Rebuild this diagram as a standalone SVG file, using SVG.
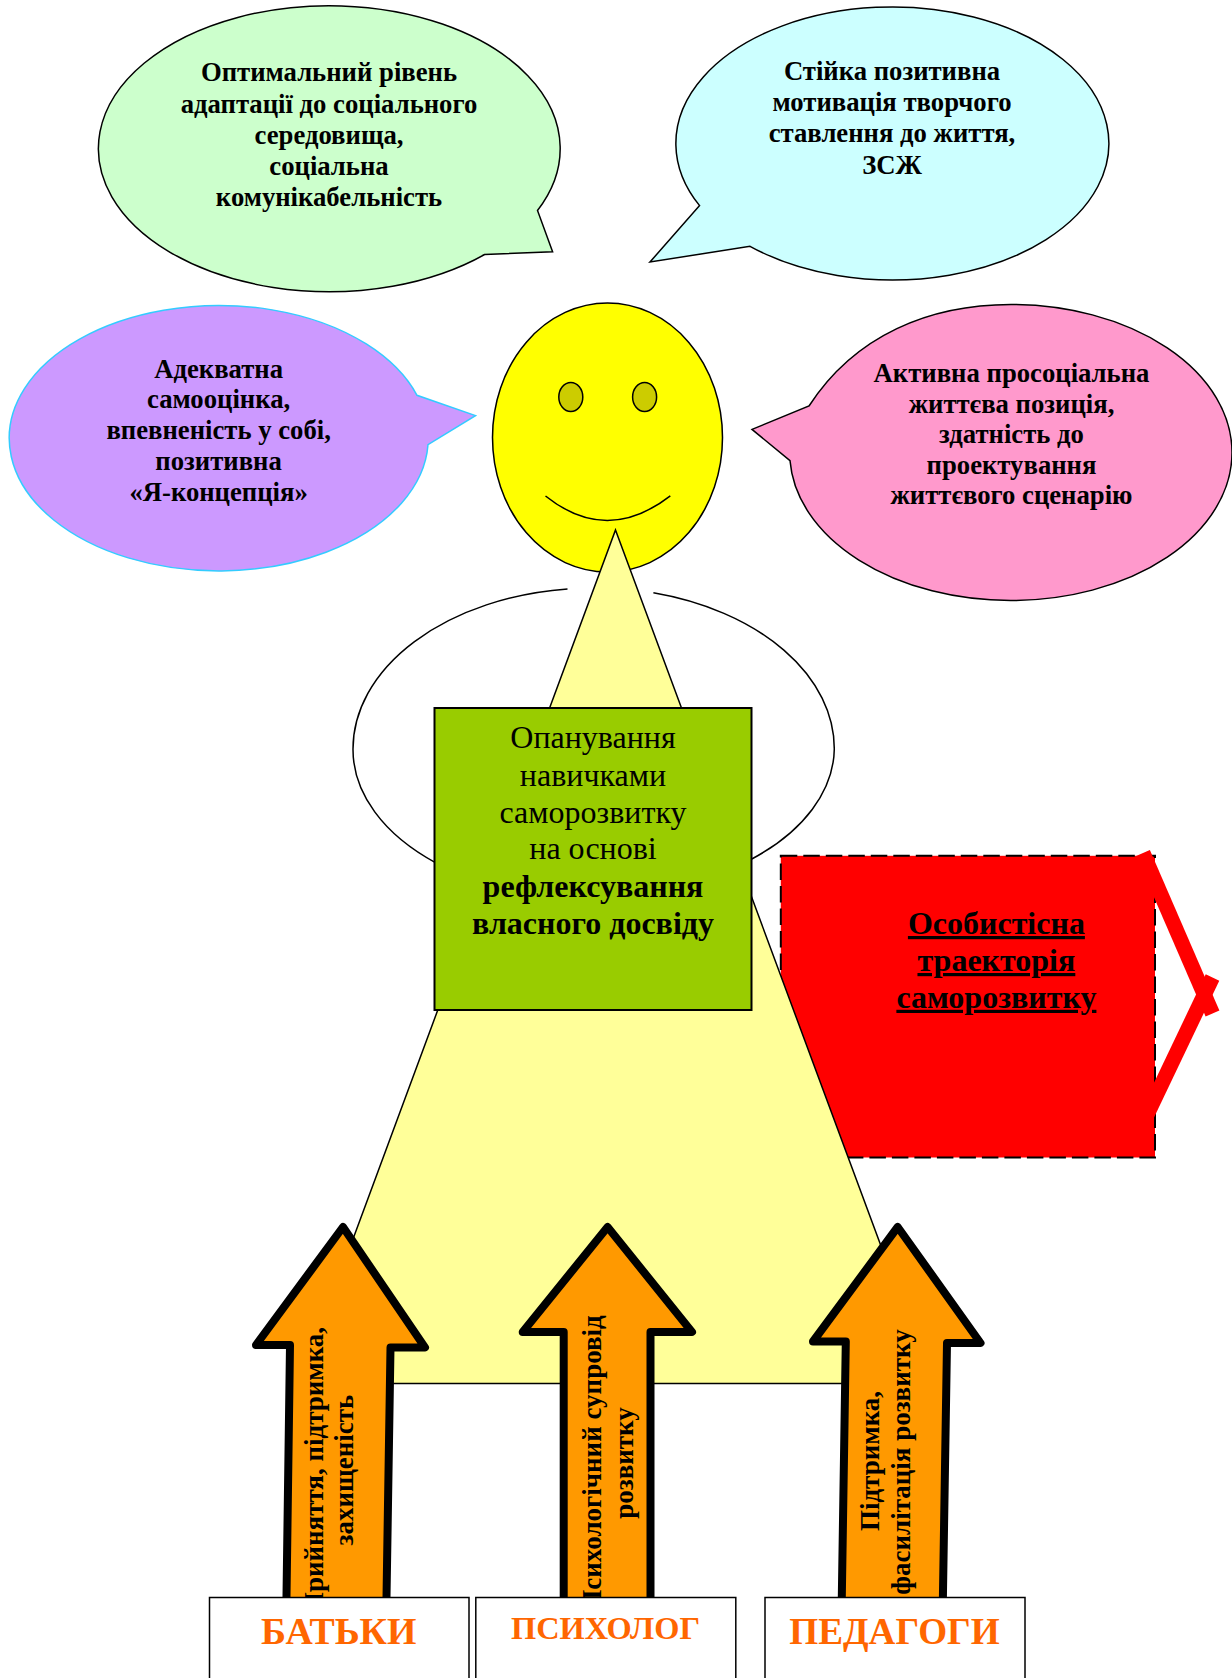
<svg xmlns="http://www.w3.org/2000/svg" width="1232" height="1678" viewBox="0 0 1232 1678">
<style>
text{font-family:"Liberation Serif","Times New Roman",serif;text-anchor:middle;fill:#000}
.c{font-weight:bold;font-size:26.7px}
.m{font-size:32px}
.b{font-weight:bold}
.r{font-weight:bold;font-size:32px;text-decoration:underline}
.a{font-weight:bold;font-size:27px}
.l{font-weight:bold;fill:#F60}
.s{stroke:#000;stroke-width:1.5}
.ar{fill:#F90;stroke:#000;stroke-width:8;stroke-linejoin:round}
.bx{fill:#fff;stroke:#000;stroke-width:1.5}
</style>
<g id="callout-green">
<path class="s" fill="#CFC" d="M537.5 210.5A230.9 143 0 1 0 484.6 254.5L552.6 251.8Z"/>
<text class="c" x="329" y="81.2">Оптимальний рівень</text>
<text class="c" x="329" y="112.5">адаптації до соціального</text>
<text class="c" x="329" y="143.8">середовища,</text>
<text class="c" x="329" y="174.8">соціальна</text>
<text class="c" x="329" y="206.2">комунікабельність</text>
</g>
<g id="callout-cyan">
<path class="s" fill="#CFF" d="M699.6 205.6A216.5 136.5 0 1 1 750 246.3L650 262Z"/>
<text class="c" x="892" y="79.8">Стійка позитивна</text>
<text class="c" x="892" y="111">мотивація творчого</text>
<text class="c" x="892" y="141.8">ставлення до життя,</text>
<text class="c" x="892" y="173.5">ЗСЖ</text>
</g>
<g id="callout-purple">
<path fill="#C9F" stroke="#3CF" stroke-width="1.5" d="M417 395.3A209.5 132.7 0 1 0 428 444.7L475.5 415.6Z"/>
<text class="c" x="218.6" y="377.8">Адекватна</text>
<text class="c" x="218.6" y="408.4">самооцінка,</text>
<text class="c" x="218.6" y="439">впевненість у собі,</text>
<text class="c" x="218.6" y="470">позитивна</text>
<text class="c" x="218.6" y="501.4">«Я-концепція»</text>
</g>
<g id="callout-pink">
<path class="s" fill="#F9C" d="M809 406C855 335 930 304.5 1011 304.5A221 148 0 0 1 1011 600.5A221 148 0 0 1 790 460.6L752 429.4Z"/>
<text class="c" x="1011.5" y="382">Активна просоціальна</text>
<text class="c" x="1011.5" y="412.5">життєва позиція,</text>
<text class="c" x="1011.5" y="442.8">здатність до</text>
<text class="c" x="1011.5" y="474">проектування</text>
<text class="c" x="1011.5" y="504">життєвого сценарію</text>
</g>
<g id="face">
<ellipse class="s" fill="#FF0" cx="607.5" cy="437.5" rx="115" ry="134.5"/>
<ellipse class="s" fill="#CC0" cx="570.8" cy="397" rx="12" ry="14.5"/>
<ellipse class="s" fill="#CC0" cx="644.6" cy="397" rx="12" ry="14.5"/>
<path class="s" fill="none" d="M545.5 496Q607 545 670.3 495.8"/>
</g>
<g id="arms">
<path class="s" fill="none" d="M567.5 589A240.6 161 0 0 0 353 749A240.6 150 0 0 0 436.7 863.3"/>
<path class="s" fill="none" d="M653.4 592.8A240.6 161 0 0 1 834.3 749A240.6 148 0 0 1 751.8 859"/>
</g>
<g id="trajectory">
<rect fill="#F00" x="780.8" y="855.8" width="374.2" height="301.7"/>
<rect fill="none" stroke="#000" stroke-width="2" stroke-dasharray="16.5 6" x="780.8" y="855.8" width="374.2" height="301.7"/>
<path fill="none" stroke="#F00" stroke-width="15" d="M1143 853L1212.5 1013.5"/>
<path fill="none" stroke="#F00" stroke-width="15" d="M1212.5 977.5L1145 1119"/>
</g>
<g id="body">
<path class="s" fill="#FF9" d="M615.5 530L932 1383.5H299.5Z"/>
</g>
<g id="trajectory-label">
<text class="r" x="996.4" y="934">Особистісна</text>
<text class="r" x="996.4" y="971">траекторія</text>
<text class="r" x="996.4" y="1007.8">саморозвитку</text>
</g>
<g id="centre">
<rect fill="#9C0" stroke="#000" stroke-width="2" x="434.5" y="708" width="317" height="302"/>
<text class="m" x="593" y="748.3">Опанування</text>
<text class="m" x="593" y="786">навичками</text>
<text class="m" x="593" y="822.6">саморозвитку</text>
<text class="m" x="593" y="859">на основі</text>
<text class="m b" x="593" y="896.6">рефлексування</text>
<text class="m b" x="593" y="934.3">власного досвіду</text>
</g>
<g id="connectors">
<path class="ar" d="M343 1227L425 1347.5H390.5L386.3 1610H286.3L290 1345H256Z"/>
<path class="ar" d="M607.6 1227L692 1332H650.5V1610H563.7V1332H522.7Z"/>
<path class="ar" d="M897.7 1227L980.5 1343H947L942.7 1610H841.6L845.8 1341.5H813Z"/>
<text class="a" transform="translate(322.8 1470) rotate(-90)">Прийняття, підтримка,</text>
<text class="a" transform="translate(353 1470) rotate(-90)">захищеність</text>
<text class="a" transform="translate(600.7 1463) rotate(-90)">Психологічний супровід</text>
<text class="a" transform="translate(632.5 1463) rotate(-90)">розвитку</text>
<text class="a" transform="translate(878.7 1461) rotate(-90)">Підтримка,</text>
<text class="a" transform="translate(910 1462) rotate(-90)">фасилітація розвитку</text>
</g>
<g id="node-parents">
<rect class="bx" x="209.5" y="1597.5" width="259.5" height="100"/>
<text class="l" x="338.7" y="1644" font-size="37.8">БАТЬКИ</text>
</g>
<g id="node-psychologist">
<rect class="bx" x="475.8" y="1597.5" width="260" height="100"/>
<text class="l" x="605.5" y="1639" font-size="32.4">ПСИХОЛОГ</text>
</g>
<g id="node-teachers">
<rect class="bx" x="765" y="1597.5" width="260" height="100"/>
<text class="l" x="894.5" y="1644" font-size="37.2">ПЕДАГОГИ</text>
</g>
</svg>
